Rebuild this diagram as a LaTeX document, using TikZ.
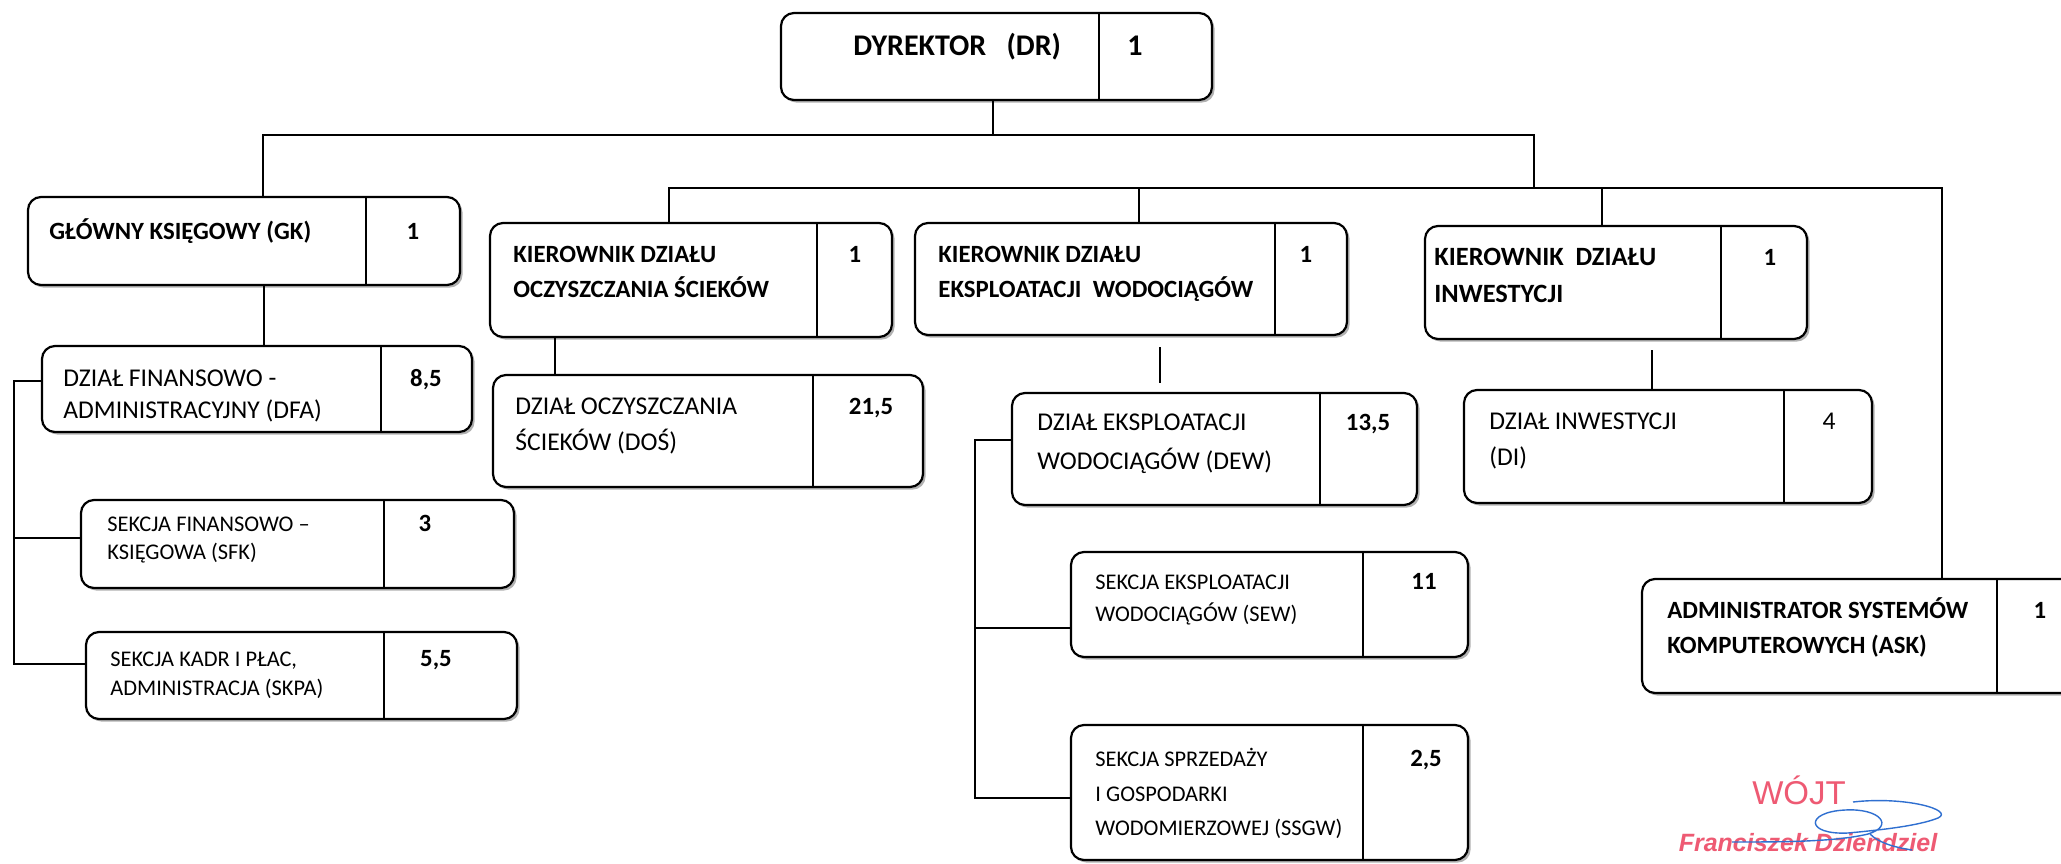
\documentclass[tikz,border=0pt]{standalone}
\usepackage{fontspec}
\setmainfont{Carlito}
\newfontfamily\arialf{Liberation Sans}
\usetikzlibrary{shadows}
\definecolor{stampred}{HTML}{EE5A73}
\definecolor{sigblue}{HTML}{2F6FD0}
\tikzset{
  box/.style={draw=black, line width=1.1pt, rounded corners=6.5pt, fill=white, inner sep=0pt,
    drop shadow={shadow xshift=1.3pt, shadow yshift=-1.3pt, fill=black!30, opacity=1}},
  conn/.style={line width=1.1pt, line cap=rect},
  lb/.style={inner sep=0pt, anchor=west, text height=0.644em, text depth=0pt},
  nm/.style={inner sep=0pt, anchor=center, text height=0.644em, text depth=0pt},
  fdr/.style={font=\fontsize{15}{18}\selectfont\bfseries},
  fhd/.style={font=\fontsize{12.4}{15}\selectfont\bfseries},
  fhdi/.style={font=\fontsize{13.2}{15}\selectfont\bfseries},
  fdp/.style={font=\fontsize{12.8}{15}\selectfont},
  fsc/.style={font=\fontsize{11.2}{14}\selectfont},
}
\newcommand\orgbox[6]{%
  \node[box, minimum width={(#4-#2)*0.5pt}, minimum height={(#5-#3)*0.5pt}] (#1) at ({(#2+#4)/2},{(#3+#5)/2}) {};
  \draw[line width=1.1pt] (#6,#3) -- (#6,#5);
}
\begin{document}
\begin{tikzpicture}[x=0.5pt, y=-0.5pt]
\useasboundingbox (0,0) rectangle (2061,863);
\clip (0,0) rectangle (2061,863);
\fill[white] (0,0) rectangle (2061,863);

% junction coordinates
\coordinate (t1) at (263,135);
\coordinate (t2) at (1534,135);
\coordinate (tdr) at (993,135);
\coordinate (s0) at (1534,188);
\coordinate (s1) at (669,188);
\coordinate (s2) at (1139,188);
\coordinate (s3) at (1602,188);
\coordinate (s4) at (1942,188);
\coordinate (bl) at (14,381);
\coordinate (br) at (975,440);

% connectors (behind boxes)
\draw[conn] (t1) -- (t2) -- (s0);
\draw[conn] (s1) -- (s4);

% boxes
\orgbox{dr}{781}{13}{1212}{100}{1099}
\orgbox{gk}{28}{197}{460}{285}{366}
\orgbox{dfa}{42}{346}{472}{432}{381}
\orgbox{sfk}{81}{500}{514}{588}{384}
\orgbox{skpa}{86}{632}{517}{719}{384}
\orgbox{kdos}{490}{223}{892}{337}{817}
\orgbox{dos}{493}{375}{923}{487}{813}
\orgbox{kdew}{915}{223}{1347}{335}{1275}
\orgbox{dew}{1012}{393}{1417}{505}{1320}
\orgbox{sew}{1071}{552}{1468}{657}{1363}
\orgbox{ssgw}{1071}{725}{1468}{860}{1363}
\orgbox{kdi}{1425}{226}{1807}{339}{1721}
\orgbox{di}{1464}{390}{1872}{503}{1784}
\orgbox{ask}{1642}{579}{2090}{693}{1997}

% drops
\draw[conn] (dr.south -| tdr) -- (tdr);
\draw[conn] (t1) -- (gk.north -| t1);
\draw[conn] (gk.south -| 264,0) -- (dfa.north -| 264,0);
\draw[conn] (s1) -- (kdos.north -| s1);
\draw[conn] (s2) -- (kdew.north -| s2);
\draw[conn] (s3) -- (kdi.north -| s3);
\draw[conn] (s4) -- (ask.north -| s4);
\draw[conn] (kdos.south -| 555,0) -- (dos.north -| 555,0);
\draw[conn, shorten <=6pt, shorten >=5pt] (kdew.south -| 1160,0) -- (dew.north -| 1160,0);
\draw[conn, shorten <=5.5pt] (kdi.south -| 1652,0) -- (di.north -| 1652,0);

% brackets
\draw[conn] (dfa.west |- bl) -- (bl) -- (14,664) -- (skpa.west |- 0,664);
\draw[conn] (14,538) -- (sfk.west |- 0,538);
\draw[conn] (dew.west |- br) -- (br) -- (975,798) -- (ssgw.west |- 0,798);
\draw[conn] (975,628) -- (sew.west |- 0,628);

% texts
\node[lb, fdr] (drt) at (853,49) {DYREKTOR\ \ \ (DR)};
\node[nm, fdr] (drn) at (1135,49) {1};

\node[lb, fhd] (gkt) at (49,233) {GŁÓWNY KSIĘGOWY (GK)};
\node[nm, fhd] (gkn) at (413,233) {1};

\node[lb, fdp] (dfa1) at (63,380) {DZIAŁ FINANSOWO -};
\node[lb, fdp] (dfa2) at (63,412) {ADMINISTRACYJNY (DFA)};
\node[nm, fhd] (dfan) at (426,380) {8,5};

\node[lb, fsc] (sfk1) at (107,525) {SEKCJA FINANSOWO –};
\node[lb, fsc] (sfk2) at (107,553) {KSIĘGOWA (SFK)};
\node[nm, fhd] (sfkn) at (425,525) {3};

\node[lb, fsc] (skpa1) at (110,660) {SEKCJA KADR I PŁAC,};
\node[lb, fsc] (skpa2) at (110,689) {ADMINISTRACJA (SKPA)};
\node[nm, fhd] (skpan) at (436,660) {5,5};

\node[lb, fhd] (kdos1) at (513,256) {KIEROWNIK DZIAŁU};
\node[lb, fhd] (kdos2) at (513,291) {OCZYSZCZANIA ŚCIEKÓW};
\node[nm, fhd] (kdosn) at (855,256) {1};

\node[lb, fdp] (dos1) at (515,408) {DZIAŁ OCZYSZCZANIA};
\node[lb, fdp] (dos2) at (515,444) {ŚCIEKÓW (DOŚ)};
\node[nm, fhd] (dosn) at (871,408) {21,5};

\node[lb, fhd] (kdew1) at (938,256) {KIEROWNIK DZIAŁU};
\node[lb, fhd] (kdew2) at (938,291) {EKSPLOATACJI\ \ WODOCIĄGÓW};
\node[nm, fhd] (kdewn) at (1306,256) {1};

\node[lb, fdp] (dew1) at (1037,424) {DZIAŁ EKSPLOATACJI};
\node[lb, fdp] (dew2) at (1037,463) {WODOCIĄGÓW (DEW)};
\node[nm, fhd] (dewn) at (1368,424) {13,5};

\node[lb, fsc] (sew1) at (1095,583) {SEKCJA EKSPLOATACJI};
\node[lb, fsc] (sew2) at (1095,615) {WODOCIĄGÓW (SEW)};
\node[nm, fhd] (sewn) at (1424,583) {11};

\node[lb, fsc] (ssgw1) at (1095,760) {SEKCJA SPRZEDAŻY};
\node[lb, fsc] (ssgw2) at (1095,795) {I GOSPODARKI};
\node[lb, fsc] (ssgw3) at (1095,829) {WODOMIERZOWEJ (SSGW)};
\node[nm, fhd] (ssgwn) at (1426,760) {2,5};

\node[lb, fhdi] (kdi1) at (1434,259) {KIEROWNIK\ \ DZIAŁU};
\node[lb, fhdi] (kdi2) at (1434,296) {INWESTYCJI};
\node[nm, fhd] (kdin) at (1770,259) {1};

\node[lb, fdp] (di1) at (1489,423) {DZIAŁ INWESTYCJI};
\node[lb, fdp] (di2) at (1489,459) {(DI)};
\node[nm, fdp] (din) at (1829,423) {4};

\node[lb, fhd] (ask1) at (1667,612) {ADMINISTRATOR SYSTEMÓW};
\node[lb, fhd] (ask2) at (1667,647) {KOMPUTEROWYCH (ASK)};
\node[nm, fhd] (askn) at (2040,612) {1};

% stamp
\node[inner sep=0pt, text=stampred, font=\arialf\fontsize{16.5}{18}\selectfont] (wojt) at (1799,790) {WÓJT};
\node[inner sep=0pt, text=stampred, font=\arialf\fontsize{12.5}{14}\selectfont\bfseries\itshape] (fdz) at (1808,843) {Franciszek Dziendziel};
\draw[sigblue, line width=0.7pt] (1853,802) .. controls (1905,796) and (1955,810) .. (1938,818)
  .. controls (1918,826) and (1880,830) .. (1848,833)
  .. controls (1805,835) and (1805,812) .. (1845,810)
  .. controls (1880,808) and (1895,826) .. (1868,834)
  .. controls (1835,842) and (1780,842) .. (1732,842);
\draw[sigblue, line width=0.7pt] (1870,834) .. controls (1878,842) and (1892,847) .. (1912,850);
\end{tikzpicture}
\end{document}
